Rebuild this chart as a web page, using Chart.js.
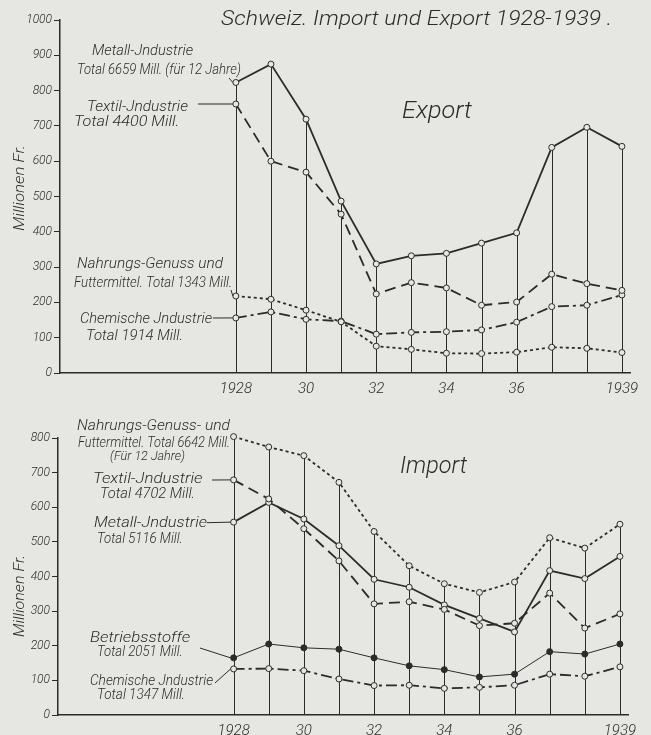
<!DOCTYPE html>
<html>
<head>
<meta charset="utf-8">
<title>Schweiz. Import und Export 1928-1939</title>
<script src="https://cdn.jsdelivr.net/npm/chart.js@4.4.1/dist/chart.umd.min.js"></script>
<style>
  body { margin: 0; background: #e6e6e3; }
  #wrap { position: relative; width: 651px; height: 735px; }
  .box { position: absolute; left: 0; width: 651px; }
</style>
</head>
<body>
<div id="wrap">
  <div class="box" style="top:0;height:395px"><canvas id="exportChart" width="651" height="395"></canvas></div>
  <div class="box" style="top:395px;height:340px"><canvas id="importChart" width="651" height="340"></canvas></div>
</div>
<script>
// ---------------- data (Mill. Fr.) ----------------
const years = [1928, 1929, 1930, 1931, 1932, 1933, 1934, 1935, 1936, 1937, 1938, 1939];
const xTickYears = [1928, 1930, 1932, 1934, 1936, 1939];
const exportTicks = [0, 100, 200, 300, 400, 500, 600, 700, 800, 900, 1000];
const importTicks = [0, 100, 200, 300, 400, 500, 600, 700, 800];

// Export
const expMetall    = [823, 875, 719, 487, 309, 332, 339, 368, 397, 639, 696, 642];
const expTextil    = [762, 600, 569, 450, 224, 256, 241, 192, 201, 280, 253, 234];
const expNahrung   = [218, 209, 178, 145, 76, 67, 56, 55, 59, 73, 70, 58];
const expChemie    = [156, 173, 152, 147, 110, 115, 117, 122, 144, 188, 192, 221];

// Import
const impNahrung   = [804, 774, 749, 672, 530, 431, 379, 354, 384, 512, 482, 551];
const impTextil    = [679, 624, 538, 445, 321, 327, 305, 258, 265, 352, 251, 292];
const impMetall    = [557, 614, 566, 489, 392, 369, 318, 279, 240, 417, 394, 458];
const impBetrieb   = [165, 205, 194, 190, 165, 142, 131, 110, 118, 183, 176, 205];
const impChemie    = [133, 134, 128, 104, 85, 86, 77, 80, 86, 118, 112, 139];

const INK = "#2b2b2b";
const PAPER = "#e6e6e3";
const FONT = "Roboto, 'DejaVu Sans', sans-serif";

function pts(vals) {
  return years.map((y, i) => ({ x: y, y: vals[i] }));
}

// line style presets
function series(label, vals, style) {
  const ds = {
    label: label,
    data: pts(vals),
    borderColor: INK,
    borderWidth: 1.8,
    tension: 0,
    clip: false,
    pointRadius: 3,
    pointBackgroundColor: PAPER,
    pointBorderColor: INK,
    pointBorderWidth: 1,
  };
  if (style == "dash") ds.borderDash = [11, 6];
  if (style == "dot") ds.borderDash = [3, 3];
  if (style == "dashdot") ds.borderDash = [11, 4, 3, 4];
  if (style == "thin") { ds.borderWidth = 1; ds.pointBackgroundColor = INK; }
  return ds;
}

// draws text at a fixed size, stretched a little toward a wanted width
function txt(ctx, s, x, y, size, w, align) {
  ctx.save();
  ctx.font = "italic 300 " + size + "px " + FONT;
  const m = ctx.measureText(s).width;
  let k = w ? w / m : 1;
  k = Math.min(1.12, Math.max(0.88, k));
  ctx.fillStyle = INK;
  ctx.textBaseline = "alphabetic";
  ctx.textAlign = align || "left";
  ctx.translate(x, y);
  ctx.scale(k, 1);
  ctx.fillText(s, 0, 0);
  ctx.restore();
}

// ------------------------------------
//  vertical stems from 0 to the top point of each year
// ------------------------------------
const stems = {
  id: "stems",
  beforeDatasetsDraw(chart) {
    const ctx = chart.ctx;
    const xs = chart.scales.x, ys = chart.scales.y;
    ctx.save();
    ctx.strokeStyle = INK;
    ctx.lineWidth = 1;
    years.forEach((yr, i) => {
      const top = Math.max(...chart.data.datasets.map(d => d.data[i].y));
      const px = Math.round(xs.getPixelForValue(yr)) + 0.5;
      ctx.beginPath();
      ctx.moveTo(px, ys.getPixelForValue(0));
      ctx.lineTo(px, ys.getPixelForValue(top));
      ctx.stroke();
    });
    ctx.restore();
  },
};

// ------------------------------------
//  labels, leader lines, titles
// ------------------------------------
const notes = {
  id: "notes",
  afterDraw(chart, args, opts) {
    const ctx = chart.ctx;
    const xs = chart.scales.x, ys = chart.scales.y;
    (opts.texts || []).forEach(t => txt(ctx, t[0], t[1], t[2], t[3], t[4]));
    ctx.save();
    ctx.strokeStyle = INK;
    ctx.lineWidth = 1;
    (opts.leaders || []).forEach(l => {
      const v = chart.data.datasets[l[2]].data[0];
      ctx.beginPath();
      ctx.moveTo(l[0], l[1]);
      ctx.lineTo(xs.getPixelForValue(v.x) - 3, ys.getPixelForValue(v.y));
      ctx.stroke();
    });
    ctx.restore();
    // rotated axis title
    if (opts.yTitle) {
      ctx.save();
      ctx.translate(opts.yTitle[0], opts.yTitle[1]);
      ctx.rotate(-Math.PI / 2);
      txt(ctx, "Millionen Fr.", 0, 0, 15, opts.yTitle[2], "center");
      ctx.restore();
    }
  },
};

function makeChart(el, datasets, yMax, yTicks, xMin, xMax, padding, yWidth, xHeight, xPad, noteOpts) {
  return new Chart(el, {
    type: "line",
    data: { datasets: datasets },
    plugins: [stems, notes],
    options: {
      responsive: false,
      animation: false,
      layout: { padding: padding },
      plugins: { legend: { display: false }, tooltip: { enabled: false }, notes: noteOpts },
      scales: {
        x: {
          type: "linear",
          min: xMin,
          max: xMax,
          afterFit(s) { s.height = xHeight; },
          afterBuildTicks(s) { s.ticks = xTickYears.map(v => ({ value: v })); },
          grid: { display: false, drawTicks: false },
          border: { color: INK, width: 1.5 },
          ticks: {
            padding: xPad,
            color: INK,
            font: { family: FONT, style: "italic", weight: "300", size: 15 },
            callback: v => (v == 1928 || v == 1939) ? String(v) : String(v).slice(2),
          },
        },
        y: {
          type: "linear",
          min: 0,
          max: yMax,
          afterFit(s) { s.width = yWidth; },
          afterBuildTicks(s) { s.ticks = yTicks.map(v => ({ value: v })); },
          grid: { drawOnChartArea: false, drawTicks: true, tickLength: 6, color: INK },
          border: { color: INK, width: 1.5 },
          ticks: {
            padding: 2,
            color: INK,
            font: { family: FONT, style: "italic", weight: "300", size: 12 },
            callback: v => String(v),
          },
        },
      },
    },
  });
}

// ---------------- Export ----------------
makeChart(
  document.getElementById("exportChart"),
  [
    series("Metall-Jndustrie", expMetall, "solid"),
    series("Textil-Jndustrie", expTextil, "dash"),
    series("Nahrungs-Genuss und Futtermittel", expNahrung, "dot"),
    series("Chemische Jndustrie", expChemie, "dashdot"),
  ],
  1000, exportTicks, 1922.99, 1939.23,
  { top: 20, right: 21, left: 0, bottom: 0 }, 60, 22, 7,
  {
    texts: [
      ["Schweiz. Import und Export 1928-1939 .", 221, 25, 21, 391],
      ["Export", 402, 118, 23, 70],
      ["Metall-Jndustrie", 92, 55, 14.5, 101],
      ["Total 6659 Mill. (für 12 Jahre)", 77, 74, 14, 164],
      ["Textil-Jndustrie", 87, 111, 14.5, 101],
      ["Total 4400 Mill.", 74, 126, 14.5, 110],
      ["Nahrungs-Genuss und", 77, 268, 14.5, 146],
      ["Futtermittel. Total 1343 Mill.", 74, 287, 14, 158],
      ["Chemische Jndustrie", 80, 323, 14.5, 132],
      ["Total 1914 Mill.", 86, 340, 14.5, 97],
    ],
    leaders: [[229, 78, 0], [198, 104, 1], [231, 290, 2], [213, 318, 3]],
    yTitle: [24, 188, 90],
  }
);

// ---------------- Import ----------------
makeChart(
  document.getElementById("importChart"),
  [
    series("Nahrungs-Genuss- und Futtermittel", impNahrung, "dot"),
    series("Textil-Jndustrie", impTextil, "dash"),
    series("Metall-Jndustrie", impMetall, "solid"),
    series("Betriebsstoffe", impBetrieb, "thin"),
    series("Chemische Jndustrie", impChemie, "dashdot"),
  ],
  800, importTicks, 1923.0, 1939.23,
  { top: 43, right: 23, left: 0, bottom: 0 }, 58, 20, 7,
  {
    texts: [
      ["Import", 400, 78, 23, 67],
      ["Nahrungs-Genuss- und", 77, 35, 14.5, 153],
      ["Futtermittel. Total 6642 Mill.", 78, 52, 14, 152],
      ["(Für 12 Jahre)", 110, 65, 13.5, 75],
      ["Textil-Jndustrie", 93, 88, 15, 118],
      ["Total 4702 Mill.", 100, 103, 15, 95],
      ["Metall-Jndustrie", 94, 132, 15, 113],
      ["Total 5116 Mill.", 97, 148, 15, 81],
      ["Betriebsstoffe", 90, 247, 15, 105],
      ["Total 2051 Mill.", 97, 261, 15, 81],
      ["Chemische Jndustrie", 90, 290, 14.5, 123],
      ["Total 1347 Mill.", 97, 304, 15, 88],
    ],
    leaders: [[212, 85, 1], [207, 127.7, 2], [200, 253, 3], [215, 288, 4]],
    yTitle: [24, 201, 82],
  }
);
</script>
</body>
</html>
